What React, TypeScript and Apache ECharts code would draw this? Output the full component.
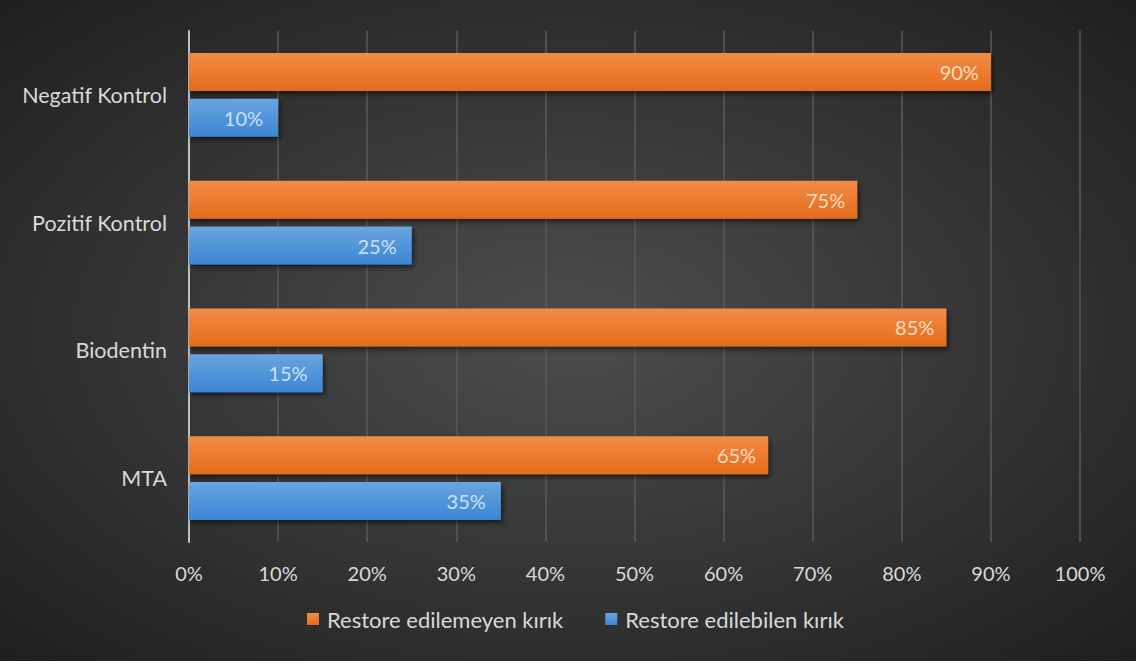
import React, { useEffect, useRef } from "react";
import * as echarts from "echarts";

const categories = ["Negatif Kontrol", "Pozitif Kontrol", "Biodentin", "MTA"];
const seriesNames = ["Restore edilemeyen kırık", "Restore edilebilen kırık"];
const nonRestorable = [90, 75, 85, 65];
const restorable = [10, 25, 15, 35];
const xTicks = [0, 10, 20, 30, 40, 50, 60, 70, 80, 90, 100];

const FONT = "Lato, 'Open Sans', sans-serif";
const FS = 20;

export default function App() {
  const ref = useRef<HTMLDivElement>(null);
  useEffect(() => {
    document.body.style.margin = "0";
    document.body.style.background = "#ffffff";
    const chart = echarts.init(ref.current!, null, { renderer: "svg" });
    const orangeGrad = new echarts.graphic.LinearGradient(0, 0, 0, 1, [
      { offset: 0, color: "#f38c47" },
      { offset: 1, color: "#e46c1b" },
    ]);
    const blueGrad = new echarts.graphic.LinearGradient(0, 0, 0, 1, [
      { offset: 0, color: "#6aa5e0" },
      { offset: 1, color: "#3a86d3" },
    ]);
    chart.setOption({
      animation: false,
      backgroundColor: new echarts.graphic.RadialGradient(0.5, 0.5, 0.75, [
        { offset: 0, color: "#4d4d4d" },
        { offset: 1, color: "#1c1c1c" },
      ]),
      grid: { left: 189, right: 56, top: 31, bottom: 119, containLabel: false },
      legend: {
        top: 608,
        left: 307,
        padding: 0,
        itemWidth: 12,
        itemHeight: 12,
        itemGap: 42,
        icon: "rect",
        textStyle: { color: "#d9d9d9", fontSize: 22, fontFamily: FONT, padding: [0, 0, 0, 3] },
        data: seriesNames,
      },
      xAxis: {
        type: "value",
        min: 0,
        max: 100,
        interval: 10,
        axisLine: { show: false },
        axisTick: { show: false },
        splitLine: { show: true, lineStyle: { color: "#5a5a5a", width: 1.5 } },
        axisLabel: {
          color: "#d9d9d9",
          fontSize: FS,
          fontFamily: FONT,
          margin: 21,
          formatter: (v: number) => (xTicks.includes(v) ? v + "%" : ""),
        },
      },
      yAxis: {
        type: "category",
        inverse: true,
        data: categories,
        axisLine: { show: true, lineStyle: { color: "#bfbfbf", width: 2 } },
        axisTick: { show: false },
        axisLabel: { color: "#d9d9d9", fontSize: 21.5, fontFamily: FONT, margin: 22 },
      },
      series: [
        {
          name: seriesNames[0],
          type: "bar",
          data: nonRestorable,
          barWidth: 38,
          barGap: "21%",
          itemStyle: {
            color: orangeGrad,
            shadowColor: "rgba(0,0,0,0.55)",
            shadowBlur: 5,
            shadowOffsetX: 2,
            shadowOffsetY: 3,
          },
          label: {
            show: true,
            position: "insideRight",
            distance: 12,
            color: "rgba(255,236,220,0.88)",
            fontSize: FS,
            fontFamily: FONT,
            formatter: (p: any) => p.value + "%",
          },
        },
        {
          name: seriesNames[1],
          type: "bar",
          data: restorable,
          barWidth: 38,
          itemStyle: {
            color: blueGrad,
            shadowColor: "rgba(0,0,0,0.55)",
            shadowBlur: 5,
            shadowOffsetX: 2,
            shadowOffsetY: 3,
          },
          label: {
            show: true,
            position: "insideRight",
            distance: 15,
            color: "rgba(226,236,250,0.88)",
            fontSize: FS,
            fontFamily: FONT,
            formatter: (p: any) => p.value + "%",
          },
        },
      ],
    });
    return () => chart.dispose();
  }, []);
  return <div ref={ref} style={{ width: 1136, height: 661 }} />;
}
